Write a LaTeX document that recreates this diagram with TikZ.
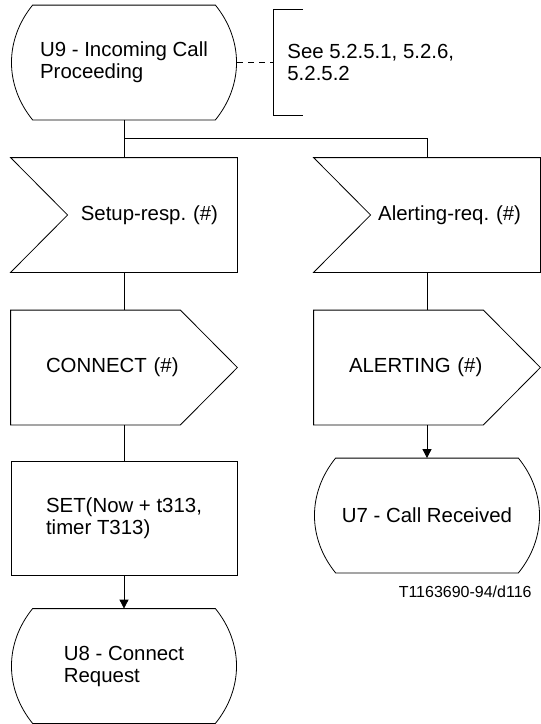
\documentclass[tikz,border=0pt]{standalone}
\usepackage{fontspec}
\setmainfont{Liberation Sans}
\usetikzlibrary{arrows.meta,calc}
\frenchspacing

\begin{document}
\begin{tikzpicture}[x=1pt, y=-1pt, line width=0.8pt,
    every node/.style={font=\fontsize{20.4pt}{22pt}\selectfont, inner sep=0pt},
    box/.style={minimum width=226pt, minimum height=114pt},
    state/.style={box, align=left},
    insig/.style={box, text width=188pt, align=right},
    outsig/.style={box, text width=156pt, align=left},
    task/.style={box, draw, align=left},
    arr/.style={-{Triangle[length=9pt, width=9pt]}}]
    \useasboundingbox (0,0) rectangle (541,724);

    % Узлы
    \node[state] (u9) at (124,62.5) {U9 - Incoming Call\\Proceeding};
    \node[insig] (setupresp) at (124,215) {Setup-resp. (\#)};
    \node[insig] (alertreq) at (427,215) {Alerting-req. (\#)};
    \node[outsig] (connect) at (124,367.5) {CONNECT (\#)};
    \node[outsig] (alerting) at (427,367.5) {ALERTING (\#)};
    \node[task] (settimer) at (124,518) {SET(Now + t313,\\timer T313)};
    \node[state] (u8) at (124,666) {U8 - Connect\\Request};
    \node[state] (u7) at (427,515.5) {U7 - Call Received};

    % Комментарий справа от U9
    \node[anchor=west, align=left, minimum height=105pt, inner xsep=14pt] (see) at (273,62.5) {See 5.2.5.1, 5.2.6,\\5.2.5.2};
    \draw ([xshift=30pt]see.north west) -- (see.north west) -- (see.south west) -- ([xshift=30pt]see.south west);
    \draw[dash pattern=on 6pt off 5pt] (u9.east) -- (see.west);

    % Состояния (U9, U8, U7)
    \foreach \s in {u9, u8, u7} {
        \draw ([xshift=22pt]\s.north west) -- ([xshift=-22pt]\s.north east)
            to[bend left=39] ([xshift=-22pt]\s.south east) -- ([xshift=22pt]\s.south west)
            to[bend left=39] ([xshift=22pt]\s.north west) -- cycle;
    }

    % Входные сигналы
    \foreach \s in {setupresp, alertreq} {
        \draw (\s.north west) -- (\s.north east) -- (\s.south east) -- (\s.south west)
            -- ([xshift=57pt]\s.west) -- cycle;
    }

    % Выходные сигналы
    \foreach \s in {connect, alerting} {
        \draw (\s.north west) -- ([xshift=-57pt]\s.north east) -- (\s.east)
            -- ([xshift=-57pt]\s.south east) -- (\s.south west) -- cycle;
    }

    % Связи
    \coordinate (fork) at ($(u9.south)!0.5!(setupresp.north)$);
    \draw (u9.south) -- (setupresp.north);
    \draw (fork) -| (alertreq.north);
    \draw (setupresp.south) -- (connect.north);
    \draw (connect.south) -- (settimer.north);
    \draw[arr] (settimer.south) -- (u8.north);
    \draw (alertreq.south) -- (alerting.north);
    \draw[arr] (alerting.south) -- (u7.north);

    \node[anchor=east, font=\fontsize{16pt}{18pt}\selectfont] (figid) at (532,592) {T1163690-94/d116};
\end{tikzpicture}
\end{document}
